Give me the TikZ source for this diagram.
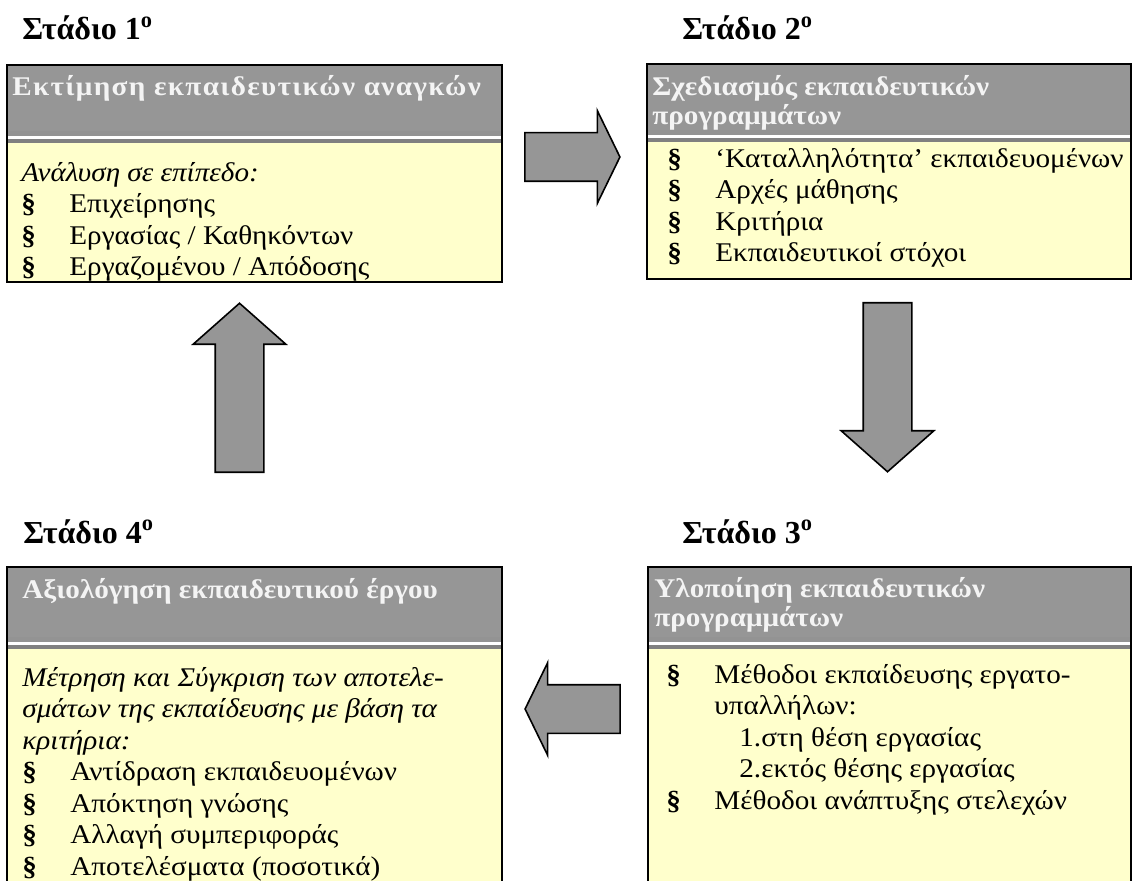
\documentclass[tikz,border=0pt]{standalone}
\usepackage{fontspec}
\setmainfont{Liberation Serif}
\newfontfamily\bodyfont[FakeStretch=1.08]{Liberation Serif}
\usetikzlibrary{shapes.arrows}
\definecolor{headgray}{RGB}{150,150,150}
\definecolor{stripgray}{RGB}{128,128,128}
\definecolor{notepad}{RGB}{255,255,204}
\definecolor{headtext}{RGB}{244,244,244}
\newcommand{\stagebg}[5]{
	\begin{scope}[shift = {(#1,#2)}]
		\fill [notepad] (0,0) rectangle (#3,#4);
		\fill [headgray] (0,0) rectangle (#3,#5);
		\fill [stripgray!85!white] (0,#5) rectangle (#3,#5+5);
		\fill [white] (0,#5+5) rectangle (#3,#5+8);
		\fill [stripgray] (0,#5+8) rectangle (#3,#5+12);
		\draw [line width=1.2pt] (0,0) rectangle (#3,#4);
	\end{scope}
}
\newcommand{\bul}{\makebox[24pt][l]{\textbf{§}}}
\tikzset{
	stagetitle/.style = {anchor=base west, inner sep=0, font=\fontsize{16}{16}\selectfont\bfseries},
	headtitle/.style = {anchor=base west, inner sep=0, align=left, text=headtext, font=\bodyfont\fontsize{13.5}{14.5}\selectfont\bfseries},
	bodytext/.style = {anchor=base west, inner sep=0, align=left, font=\bodyfont\fontsize{13.5}{15.75}\selectfont},
	blockarrow/.style = {single arrow, draw, line width=0.8pt, fill=headgray, inner xsep=0pt, inner ysep=11.75pt, single arrow head extend=11pt}
}
\begin{document}
\begin{tikzpicture}[x=0.5pt, y=-0.5pt]
\useasboundingbox (0,0) rectangle (1134,881);
\stagebg{7}{65}{495}{217}{66}
\stagebg{647}{64}{484}{215}{66}
\stagebg{648}{567}{483}{330}{70}
\stagebg{7}{567}{495}{330}{70}

% titles
\node [stagetitle] (t1) at (22,40) {Στάδιο 1\textsuperscript{o}};
\node [stagetitle] (t2) at (682,40) {Στάδιο 2\textsuperscript{o}};
\node [stagetitle] (t3) at (682,543) {Στάδιο 3\textsuperscript{o}};
\node [stagetitle] (t4) at (23,543) {Στάδιο 4\textsuperscript{o}};

% headers (base = last line)
\node [headtitle] (h1) at (12,96) {\addfontfeature{LetterSpace=5}Εκτίμηση εκπαιδευτικών αναγκών};
\node [headtitle] (h2) at (652,125) {Σχεδιασμός εκπαιδευτικών\\προγραμμάτων};
\node [headtitle] (h3) at (654,626) {Υλοποίηση εκπαιδευτικών\\προγραμμάτων};
\node [headtitle] (h4) at (22,598) {Αξιολόγηση εκπαιδευτικού έργου};

% bodies (base = last line)
\node [bodytext] (b1) at (21,276) {\textit{Ανάλυση σε επίπεδο:}\\
	\bul Επιχείρησης\\
	\bul Εργασίας / Καθηκόντων\\
	\bul Εργαζομένου / Απόδοσης};
\node [bodytext] (b2) at (667,262) {\bul ‘Καταλληλότητα’ εκπαιδευομένων\\
	\bul Αρχές μάθησης\\
	\bul Κριτήρια\\
	\bul Εκπαιδευτικοί στόχοι};
\node [bodytext] (b3) at (666,809) {\bul Μέθοδοι εκπαίδευσης εργατο-\\
	\hspace*{24pt}υπαλλήλων:\\
	\hspace*{36.5pt}1.στη θέση εργασίας\\
	\hspace*{36.5pt}2.εκτός θέσης εργασίας\\
	\bul Μέθοδοι ανάπτυξης στελεχών};
\node [bodytext] (b4) at (22,875) {\textit{Μέτρηση και Σύγκριση των αποτελε-}\\
	\textit{σμάτων της εκπαίδευσης με βάση τα}\\
	\textit{κριτήρια:}\\
	\bul Αντίδραση εκπαιδευομένων\\
	\bul Απόκτηση γνώσης\\
	\bul Αλλαγή συμπεριφοράς\\
	\bul Αποτελέσματα (ποσοτικά)};

% block arrows
\node [blockarrow, minimum height=47.5pt, single arrow tip angle=128] (a12) at (566.5,157) {};
\node [blockarrow, minimum height=84.5pt, single arrow tip angle=97, rotate=-90] (a23) at (887.5,376.5) {};
\node [blockarrow, minimum height=47.5pt, single arrow tip angle=128, rotate=180] (a34) at (578.5,709) {};
\node [blockarrow, minimum height=84.5pt, single arrow tip angle=97, rotate=90] (a41) at (239.5,398.5) {};
\end{tikzpicture}
\end{document}
